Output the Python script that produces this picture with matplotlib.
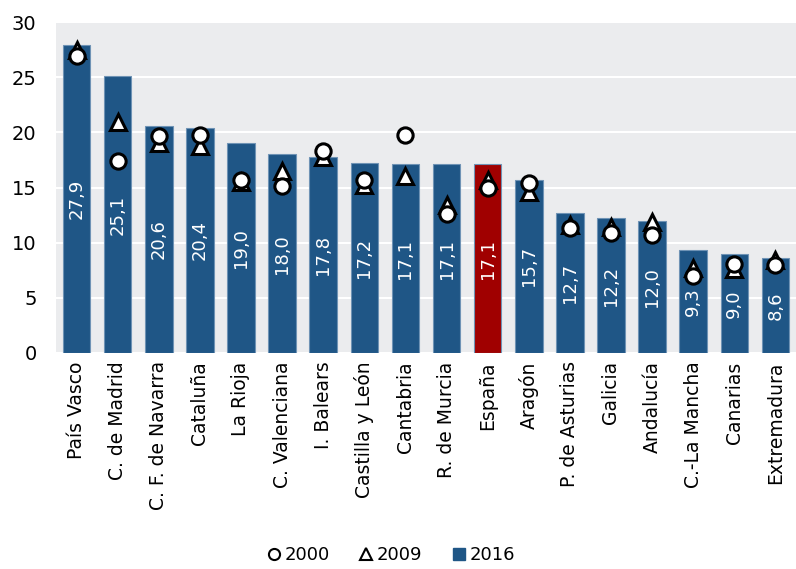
import matplotlib
matplotlib.use("Agg")
import matplotlib.pyplot as plt
from matplotlib.lines import Line2D

regions = ["País Vasco", "C. de Madrid", "C. F. de Navarra", "Cataluña", "La Rioja",
           "C. Valenciana", "I. Balears", "Castilla y León", "Cantabria", "R. de Murcia",
           "España", "Aragón", "P. de Asturias", "Galicia", "Andalucía",
           "C.-La Mancha", "Canarias", "Extremadura"]
v2016 = [27.9, 25.1, 20.6, 20.4, 19.0, 18.0, 17.8, 17.2, 17.1, 17.1,
         17.1, 15.7, 12.7, 12.2, 12.0, 9.3, 9.0, 8.6]
v2009 = [27.5, 20.9, 19.0, 18.8, 15.5, 16.5, 17.8, 15.2, 16.0, 13.4,
         15.7, 14.6, 11.6, 11.4, 11.9, 7.7, 7.6, 8.4]
v2000 = [26.9, 17.4, 19.7, 19.8, 15.7, 15.1, 18.3, 15.7, 19.8, 12.6,
         15.0, 15.4, 11.3, 10.9, 10.7, 7.0, 8.1, 8.0]
highlight = "España"

blue = "#1F5686"
red = "#A00000"
plt.rcParams['font.family'] = ['DejaVu Sans']

fig = plt.figure(figsize=(7.96, 5.69), dpi=100)
ax = fig.add_axes([56/796, 1-353/569, 1-56/796, (353-22)/569])
ax.set_facecolor("#EBECEE")
x = list(range(len(regions)))
colors = [red if r == highlight else blue for r in regions]
ax.bar(x, v2016, width=0.67, color=colors, edgecolor="#6F93B5", linewidth=0.8, zorder=2)
for xi, v in zip(x, v2016):
    ax.text(xi, v/2, f"{v:.1f}".replace(".", ","), rotation=90, ha="center", va="center",
            color="white", fontsize=13, zorder=3)
ax.plot(x, v2009, linestyle="none", marker="^", markersize=11, markerfacecolor="white",
        markeredgecolor="black", markeredgewidth=2.2, zorder=4)
ax.plot(x, v2000, linestyle="none", marker="o", markersize=11, markerfacecolor="white",
        markeredgecolor="black", markeredgewidth=2.2, zorder=5)

ax.set_xlim(-0.5, len(regions)-0.5)
ax.set_ylim(0, 30)
ax.set_yticks([0, 5, 10, 15, 20, 25, 30])
ax.yaxis.grid(True, color="white", linewidth=1.5, zorder=1)
ax.set_axisbelow(True)
for s in ax.spines.values():
    s.set_visible(False)
ax.tick_params(axis="y", length=0, labelsize=14, pad=14)
ax.tick_params(axis="x", length=0, labelsize=13.5, pad=6)
ax.set_xticks(x)
ax.set_xticklabels(regions, rotation=90)

handles = [
    Line2D([], [], linestyle="none", marker="o", markersize=8, markerfacecolor="white",
           markeredgecolor="black", markeredgewidth=1.5, label="2000"),
    Line2D([], [], linestyle="none", marker="^", markersize=8, markerfacecolor="white",
           markeredgecolor="black", markeredgewidth=1.5, label="2009"),
    Line2D([], [], linestyle="none", marker="s", markersize=8, markerfacecolor=blue,
           markeredgecolor=blue, label="2016"),
]
fig.legend(handles=handles, loc="center", bbox_to_anchor=(390/796, 1-555/569), ncol=3,
           frameon=False, fontsize=13, handletextpad=0.1, columnspacing=1.5, handlelength=1)
fig.savefig("out.png", dpi=100)
